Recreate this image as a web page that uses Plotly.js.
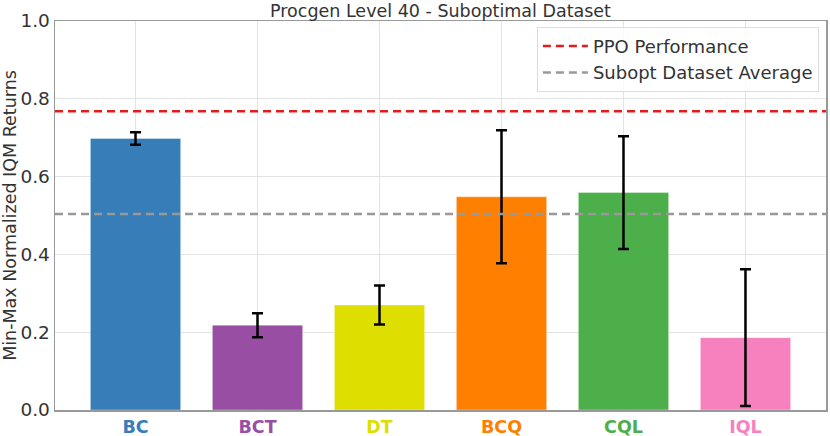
<!DOCTYPE html>
<html><head><meta charset="utf-8">
<script src="https://cdn.plot.ly/plotly-3.0.1.min.js"></script>
<style>html,body{margin:0;padding:0;background:#fff}#c{width:830px;height:436px}</style>
</head><body><div id="c"></div>
<script>
const categories = ["BC", "BCT", "DT", "BCQ", "CQL", "IQL"];
const iqmValues = [0.698, 0.218, 0.270, 0.548, 0.559, 0.186];
const iqmErrors = [0.016, 0.031, 0.050, 0.171, 0.145, 0.176];
const barColors = ["#377eb8", "#984ea3", "#dede00", "#ff7f00", "#4daf4a", "#f781bf"];
const ppoPerformance = 0.768;
const suboptAverage = 0.504;
const yTicks = [0, 0.2, 0.4, 0.6, 0.8, 1.0];

const idx = categories.map((_, i) => i);
const xr = [-0.66, categories.length - 1 + 0.66];

const traces = [
  {
    type: "bar", x: idx, y: iqmValues, width: 0.74,
    marker: {color: barColors, line: {color: "rgba(255,255,255,0.35)", width: 1}},
    error_y: {type: "data", array: iqmErrors, visible: true, color: "#000", thickness: 2.5, width: 5.5},
    showlegend: false, hoverinfo: "skip"
  },
  {
    type: "scatter", mode: "lines", x: xr, y: [ppoPerformance, ppoPerformance],
    name: "PPO Performance", line: {color: "#e41a1c", width: 2.5, dash: "8px,5px"}
  },
  {
    type: "scatter", mode: "lines", x: xr, y: [suboptAverage, suboptAverage],
    name: "Subopt Dataset Average", line: {color: "#999999", width: 2.5, dash: "8px,5px"}
  }
];

const tickText = categories.map((c, i) => `<b><span style="color:${barColors[i]}">${c}</span></b>`);

const layout = {
  width: 830, height: 436,
  margin: {l: 55, r: 4, t: 21, b: 26},
  paper_bgcolor: "#fff", plot_bgcolor: "#fff",
  font: {family: "DejaVu Sans", color: "#333"},
  title: {text: "Procgen Level 40 - Suboptimal Dataset", font: {size: 17.5, color: "#333"}, x: 440.5 / 830, xanchor: "center", yref: "container", y: 1 - 11 / 436, yanchor: "middle"},
  xaxis: {
    range: xr, tickvals: idx, ticktext: tickText, tickfont: {size: 17.5},
    showgrid: true, gridcolor: "#e3e3e3", gridwidth: 1, zeroline: false,
    showline: true, linecolor: "#999", linewidth: 1.5, mirror: true, ticks: "", ticklen: 0
  },
  yaxis: {
    range: [0, 1.0], tickvals: yTicks, ticktext: yTicks.map(v => v.toFixed(1)), tickfont: {size: 18.5},
    showgrid: true, gridcolor: "#e3e3e3", gridwidth: 1, zeroline: false,
    showline: true, linecolor: "#999", linewidth: 1.5, mirror: true, ticks: "", ticklen: 0,
    title: {text: "Min-Max Normalized IQM Returns", font: {size: 17.5, color: "#333"}, standoff: 2}
  },
  legend: {
    x: 0.625, y: 0.985, xanchor: "left", yanchor: "top",
    bgcolor: "rgba(255,255,255,0.8)", bordercolor: "#ddd", borderwidth: 1,
    font: {size: 18, color: "#333"}, tracegroupgap: 0, itemwidth: 45
  },
  showlegend: true
};

Plotly.newPlot("c", traces, layout, {displayModeBar: false, staticPlot: true});
</script>
</body></html>
